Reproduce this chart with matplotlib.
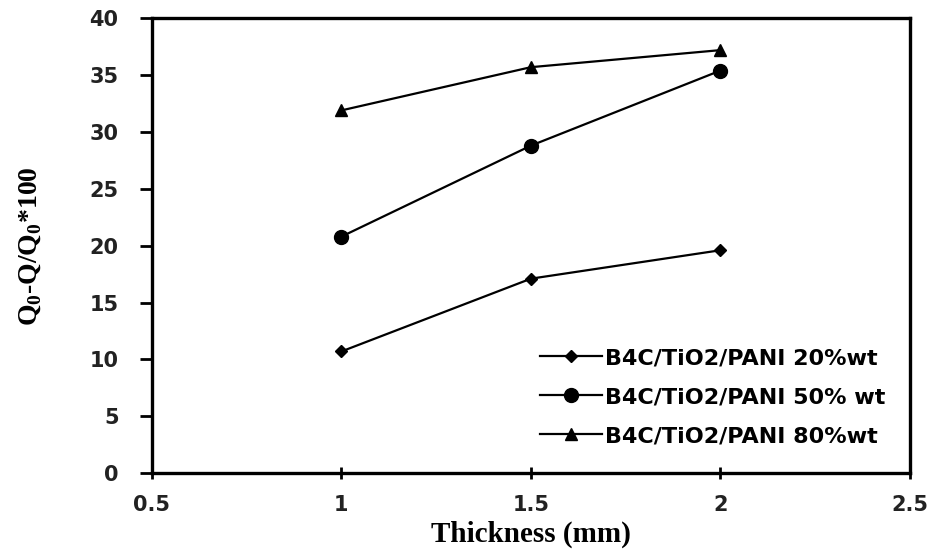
import matplotlib
matplotlib.use('Agg')
from matplotlib import pyplot as plt

thickness = [1, 1.5, 2]
pani_20 = [10.7, 17.1, 19.6]
pani_50 = [20.8, 28.8, 35.4]
pani_80 = [31.9, 35.7, 37.2]
labels = ['B4C/TiO2/PANI 20%wt', 'B4C/TiO2/PANI 50% wt', 'B4C/TiO2/PANI 80%wt']

fig = plt.figure(figsize=(9.38, 5.54), dpi=100)
ax = fig.add_axes([0.162, 0.146, 0.808, 0.821])

ax.plot(thickness, pani_20, 'k-', marker='D', markersize=6, linewidth=1.6, label=labels[0])
ax.plot(thickness, pani_50, 'k-', marker='o', markersize=10, linewidth=1.6, label=labels[1])
ax.plot(thickness, pani_80, 'k-', marker='^', markersize=9, linewidth=1.6, label=labels[2])

ax.set_xlim(0.5, 2.5)
ax.set_ylim(0, 40)
ax.set_xticks([0.5, 1, 1.5, 2, 2.5])
ax.set_xticklabels(['0.5', '1', '1.5', '2', '2.5'])
ax.set_yticks(range(0, 41, 5))

for s in ax.spines.values():
    s.set_linewidth(2.4)
ax.tick_params(axis='y', direction='out', length=9, width=2, pad=15)
ax.tick_params(axis='x', direction='inout', length=8, width=2, pad=12)
for t in ax.get_xticklabels() + ax.get_yticklabels():
    t.set_fontfamily('DejaVu Sans')
    t.set_fontweight('bold')
    t.set_fontsize(15)
    t.set_color('#222222')

ax.set_xlabel('Thickness (mm)', fontfamily='Liberation Serif', fontweight='bold', fontsize=21, labelpad=4)
ax.set_ylabel(r'Q$_\mathregular{0}$-Q/Q$_\mathregular{0}$*100', fontfamily='Liberation Serif',
              fontweight='bold', fontsize=20)
ax.yaxis.set_label_coords(-0.143, 0.5)

ax.legend(loc='lower right', frameon=False, prop={'family': 'DejaVu Sans', 'weight': 'bold', 'size': 16},
          handlelength=2.8, handletextpad=0.15, labelspacing=0.85, bbox_to_anchor=(0.98, 0.04),
          borderaxespad=0)

fig.savefig('out.png', dpi=100)
